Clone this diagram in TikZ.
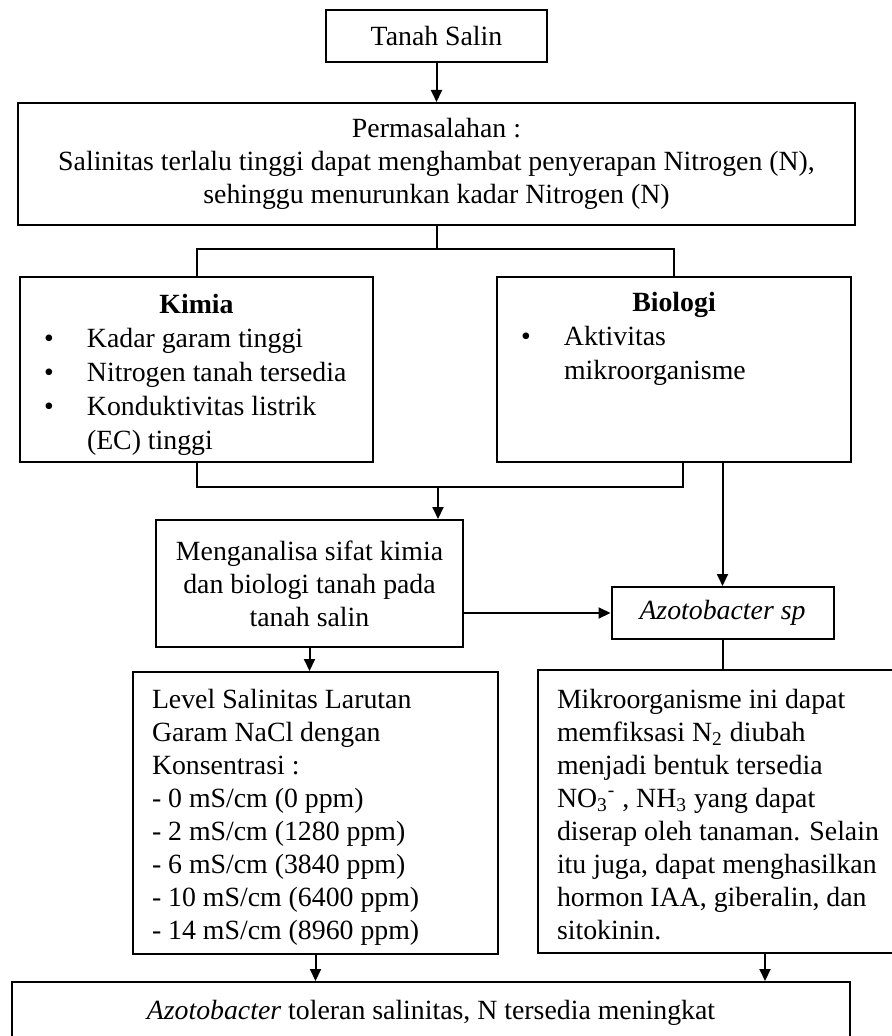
\documentclass[tikz,border=0pt]{standalone}
\usepackage{fontspec}
\setmainfont{Liberation Serif}
\usepackage{tikz}
\usetikzlibrary{arrows.meta, positioning}
\tikzstyle{kotak} = [rectangle, draw, line width=1pt, inner sep=0pt,
  font=\fontsize{13.9pt}{16.5pt}\selectfont]
\tikzstyle{daftar} = [kotak, align=flush left,
  font=\fontsize{13.9pt}{17pt}\selectfont]
\tikzstyle{panah} = [draw, -{Triangle[length=6pt,width=5.5pt]}, line width=1pt]
\tikzstyle{garis} = [draw, line width=1pt]
\newcommand{\butir}[1]{\makebox[21.5pt][l]{\textbullet}\mbox{#1}}

\begin{document}
\begin{tikzpicture}[x=0.5pt, y=-0.5pt]
    \useasboundingbox (0,0) rectangle (891,1036);

    \node [kotak, minimum width=110.5pt, minimum height=26pt] (tanah) at (436.5,36) {Tanah Salin};
    \node [kotak, below=19.5pt of tanah, align=center, minimum width=418.5pt, minimum height=61pt] (masalah)
      {Permasalahan :\\
       Salinitas terlalu tinggi dapat menghambat penyerapan Nitrogen (N),\\
       sehinggu menurunkan kadar Nitrogen (N)};

    \node [daftar, inner xsep=12pt, text width=152.5pt, minimum height=92.5pt] (kimia) at (196.5,369.5)
      {\makebox[\hsize]{\rule{0pt}{15pt}\textbf{Kimia}}\\
       \butir{Kadar garam tinggi}\\
       \butir{Nitrogen tanah tersedia}\\
       \butir{Konduktivitas listrik}\\
       \hspace*{21.5pt}(EC) tinggi};
    \node [daftar, inner xsep=12pt, text width=153pt, minimum height=92.5pt] (biologi) at (674,369.5)
      {\makebox[\hsize]{\rule{0pt}{15pt}\textbf{Biologi}}\\
       \butir{Aktivitas}\\
       \hspace*{21.5pt}mikroorganisme\\
       \strut\\
       \strut};

    \node [kotak, align=center, minimum width=153.5pt, minimum height=63.5pt] (analisa) at (309.5,583.5)
      {Menganalisa sifat kimia\\ dan biologi tanah pada\\ tanah salin};
    \node [kotak, minimum width=111pt, minimum height=26pt] (azoto) at (722.5,613) {\textit{Azotobacter sp}};

    \node [kotak, align=flush left, inner xsep=9.5pt, text width=163.5pt, minimum height=141pt] (level) at (315.5,813)
      {\rule{0pt}{13.5pt}Level Salinitas Larutan\\
       Garam NaCl dengan\\
       Konsentrasi :\\
       - 0 mS/cm (0 ppm)\\
       - 2 mS/cm (1280 ppm)\\
       - 6 mS/cm (3840 ppm)\\
       - 10 mS/cm (6400 ppm)\\
       - 14 mS/cm (8960 ppm)};
    \node [kotak, align=flush left, inner xsep=9.5pt, text width=240pt, minimum height=141.5pt] (mikro) at (797,811.5)
      {\rule{0pt}{12.5pt}Mikroorganisme ini dapat\\
       memfiksasi N\textsubscript{2} diubah\\
       menjadi bentuk tersedia\\
       NO\textsubscript{3}\textsuperscript{-} , NH\textsubscript{3} yang dapat\\
       diserap oleh tanaman. Selain\\
       itu juga, dapat menghasilkan\\
       hormon IAA, giberalin, dan\\
       sitokinin.};

    \node [kotak, minimum width=419pt, minimum height=31pt] (hasil) at (431,1013)
      {\textit{Azotobacter} toleran salinitas, N tersedia meningkat};

    % titik bantu untuk garis cabang
    \coordinate (cabang) at (masalah.south |- 0,249);
    \coordinate (gabung) at (438,487);
    \coordinate (bioKiri) at ([xshift=4.5pt]biologi.south);
    \coordinate (mikroKanan) at (765,0);

    \path [panah] (tanah) -- (masalah);
    \path [garis] (masalah.south) -- (cabang);
    \path [garis] (kimia.north) |- (cabang) -| (biologi.north);
    \path [garis] (kimia.south) |- (gabung) -| (bioKiri);
    \path [panah] (gabung) -- (gabung |- analisa.north);
    \path [panah] (azoto.north |- biologi.south) -- (azoto.north);
    \path [panah] (analisa.east |- azoto.west) -- (azoto.west);
    \path [panah] (analisa.south) -- (analisa.south |- level.north);
    \path [garis] (azoto.south) -- (azoto.south |- mikro.north);
    \path [panah] (level.south) -- (level.south |- hasil.north);
    \path [panah] (mikroKanan |- mikro.south) -- (mikroKanan |- hasil.north);
\end{tikzpicture}
\end{document}
